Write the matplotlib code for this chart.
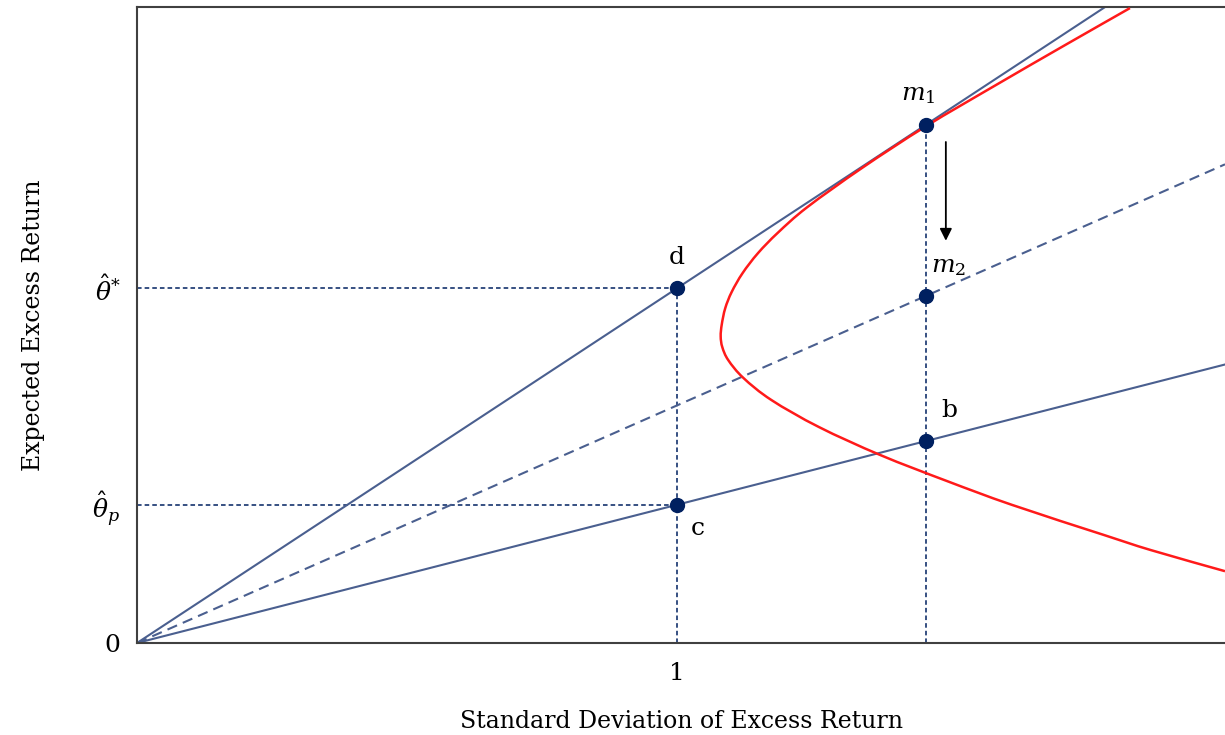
import matplotlib
matplotlib.use('Agg')
import matplotlib.pyplot as plt
from matplotlib.path import Path
from matplotlib.patches import PathPatch
import numpy as np

plt.rcParams['font.family'] = ['DejaVu Serif']
plt.rcParams['mathtext.fontset'] = 'dejavuserif'

# slopes of the three rays from the origin (solid top, dashed middle, solid bottom)
slope_top = 0.657
slope_mid = 0.44
slope_low = 0.256

# sigma positions of the marked portfolios
sigma_c = 1.0
sigma_m = 1.461

# efficient frontier (red curve), top end to bottom end
frontier_x = [1.839, 1.718, 1.590, 1.461, 1.343, 1.241, 1.187, 1.150, 1.1215, 1.1013,
              1.0894, 1.083, 1.081, 1.084, 1.095, 1.123, 1.175, 1.263, 1.377, 1.500,
              1.620, 1.791, 1.878, 2.015]
frontier_y = [1.176, 1.107, 1.033, 0.957, 0.880, 0.807, 0.760, 0.722, 0.685, 0.650,
              0.620, 0.590, 0.568, 0.548, 0.524, 0.491, 0.450, 0.400, 0.348, 0.300,
              0.256, 0.200, 0.172, 0.133]

x_max = 2.015
y_max = 1.178

line_col = '#4a5f8f'
navy = '#002060'


def smooth_path(xs, ys):
    # catmull-rom through the read points, drawn as cubic beziers
    p = np.column_stack([xs, ys])
    verts = [p[0]]
    codes = [Path.MOVETO]
    n = len(p)
    for i in range(n - 1):
        p0 = p[max(i - 1, 0)]
        p1 = p[i]
        p2 = p[i + 1]
        p3 = p[min(i + 2, n - 1)]
        c1 = p1 + (p2 - p0) / 6.0
        c2 = p2 - (p3 - p1) / 6.0
        verts += [c1, c2, p2]
        codes += [Path.CURVE4] * 3
    return Path(verts, codes)


fig = plt.figure(figsize=(12.25, 7.35), dpi=100)
ax = fig.add_axes([137 / 1225, 92 / 735, 1088 / 1225, 636 / 735])
ax.set_xlim(0, x_max)
ax.set_ylim(0, y_max)

# rays from the origin
ax.axline((0, 0), slope=slope_top, color=line_col, lw=1.5, zorder=2)
ax.axline((0, 0), slope=slope_mid, color=line_col, lw=1.5, ls=(0, (5, 3)), zorder=2)
ax.axline((0, 0), slope=slope_low, color=line_col, lw=1.5, zorder=2)

# frontier
ax.add_patch(PathPatch(smooth_path(frontier_x, frontier_y), fill=False,
                       edgecolor='#ff1a1a', lw=1.8, zorder=3))

theta_star = slope_top * sigma_c
theta_p = slope_low * sigma_c

# guide lines
dot = (0, (3, 2))
ax.plot([0, sigma_c], [theta_star, theta_star], color=navy, lw=1.1, ls=dot, zorder=1)
ax.plot([0, sigma_c], [theta_p, theta_p], color=navy, lw=1.1, ls=dot, zorder=1)
ax.plot([sigma_c, sigma_c], [0, theta_star], color=navy, lw=1.1, ls=dot, zorder=1)
ax.plot([sigma_m, sigma_m], [0, slope_top * sigma_m], color=navy, lw=1.1, ls=dot, zorder=1)

# points
pts_x = [sigma_c, sigma_c, sigma_m, sigma_m, sigma_m]
pts_y = [theta_star, theta_p, slope_top * sigma_m, slope_mid * sigma_m, slope_low * sigma_m]
ax.plot(pts_x, pts_y, 'o', color=navy, ms=10, zorder=5)

fs = 18
ax.text(sigma_c, theta_star + 0.035, 'd', ha='center', va='bottom', fontsize=fs)
ax.text(sigma_c + 0.025, theta_p - 0.022, 'c', ha='left', va='top', fontsize=fs)
ax.text(sigma_m - 0.015, slope_top * sigma_m + 0.035, r'$m_1$', ha='center', va='bottom', fontsize=fs)
ax.text(sigma_m + 0.01, slope_mid * sigma_m + 0.033, r'$m_2$', ha='left', va='bottom', fontsize=fs)
ax.text(sigma_m + 0.028, slope_low * sigma_m + 0.035, 'b', ha='left', va='bottom', fontsize=fs)

# arrow from m1 to m2
ax.annotate('', xy=(1.498, 0.745), xytext=(1.498, 0.928),
            arrowprops=dict(arrowstyle='-|>', color='black', lw=1.3,
                            mutation_scale=18, shrinkA=0, shrinkB=0))

# axes styling
for side in ['left', 'top', 'bottom']:
    ax.spines[side].set_color('#404040')
    ax.spines[side].set_linewidth(1.5)
ax.spines['right'].set_visible(False)

ax.set_xticks([1])
ax.set_xticklabels(['1'], fontsize=fs)
ax.set_yticks([0, theta_p, theta_star])
ax.set_yticklabels(['0', r'$\hat{\theta}_p$', r'$\hat{\theta}^{*}$'], fontsize=fs)
ax.tick_params(axis='both', length=0)
ax.tick_params(axis='x', pad=14)
ax.tick_params(axis='y', pad=12)

ax.set_xlabel('Standard Deviation of Excess Return', fontsize=17, labelpad=18)
ax.set_ylabel('Expected Excess Return', fontsize=17, labelpad=34)

fig.savefig('out.png', dpi=100)
